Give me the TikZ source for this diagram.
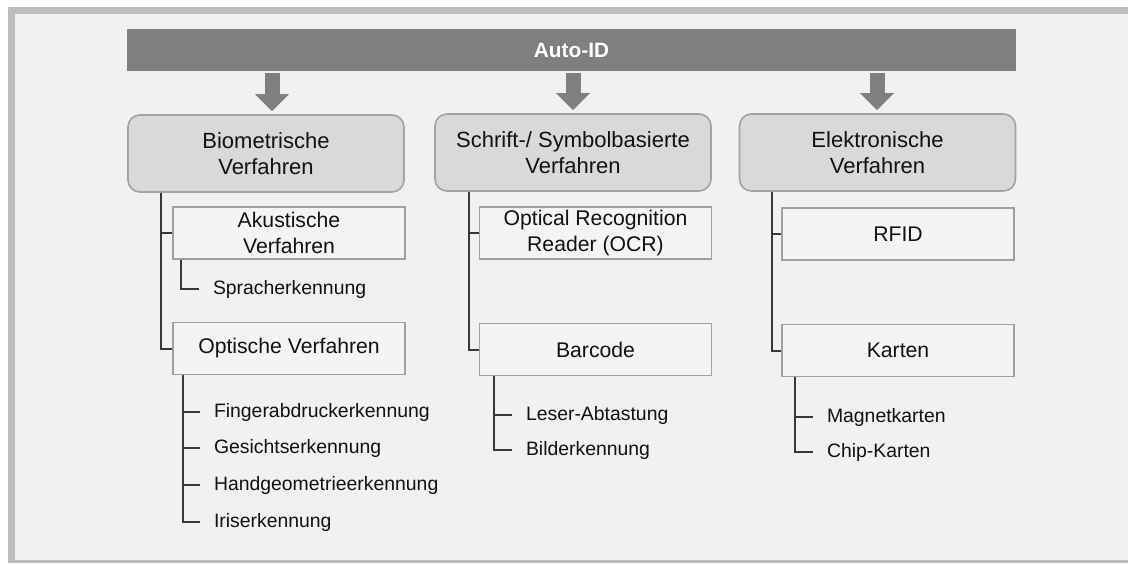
\documentclass[tikz,border=0pt]{standalone}
\usepackage{fontspec}
\setmainfont{Liberation Sans}
\usetikzlibrary{arrows.meta,calc}
\definecolor{framegrey}{HTML}{BDBDBD}
\definecolor{paper}{HTML}{F1F1F1}
\definecolor{bargrey}{HTML}{7F7F7F}
\definecolor{headfill}{HTML}{D9D9D9}
\definecolor{headline}{HTML}{A3A3A3}
\definecolor{subfill}{HTML}{F4F4F4}
\definecolor{subline}{HTML}{A0A0A0}
\definecolor{ink}{HTML}{111111}
\definecolor{treeline}{HTML}{383838}
\tikzset{
  topbar/.style={fill=bargrey, draw=none, minimum width=444.5pt, minimum height=21pt,
    text=white, font=\bfseries\fontsize{10.4}{12}\selectfont, inner sep=0pt},
  headbox/.style={rectangle, rounded corners=6pt, fill=headfill, draw=headline, line width=0.8pt,
    minimum width=138pt, minimum height=38.5pt, align=center, text=ink,
    font=\fontsize{11}{13}\selectfont, inner sep=0pt},
  subbox/.style={rectangle, fill=subfill, draw=subline, line width=0.9pt,
    minimum width=116pt, minimum height=26pt, align=center, text=ink,
    font=\fontsize{10.6}{13}\selectfont, inner sep=0pt},
  leaf/.style={anchor=west, inner xsep=6.8pt, inner ysep=0pt, text=ink,
    text height=0.72em, text depth=0.2em, font=\fontsize{9.7}{11}\selectfont},
  conn/.style={draw=treeline, line width=1pt},
  blockarrow/.style={draw=bargrey, line width=7.5pt,
    -{Triangle[width=16.5pt, length=8.5pt]}, shorten <=1pt, shorten >=1.5pt},
}
\begin{document}
\begin{tikzpicture}[x=0.5pt, y=-0.5pt]
  % page, frame and paper
  \useasboundingbox (0,0) rectangle (1128,563);
  \fill[white] (0,0) rectangle (1128,563);
  \fill[framegrey] (8,7) rectangle (1128,563);
  \fill[paper] (15,14) rectangle (1128,560);

  % title bar
  \node[topbar] (bar) at (571.5,50) {Auto-ID};

  % main categories
  \node[headbox] (b1) at (266,153.5) {Biometrische\\Verfahren};
  \node[headbox] (b2) at (573,152.5) {Schrift-/ Symbolbasierte\\Verfahren};
  \node[headbox] (b3) at (877.5,152.5) {Elektronische\\Verfahren};

  % arrows from the bar
  \coordinate (a1) at (272,0);
  \coordinate (a2) at (573,0);
  \coordinate (a3) at (877,0);
  \draw[blockarrow] (a1 |- bar.south) -- (a1 |- b1.north);
  \draw[blockarrow] (a2 |- bar.south) -- (a2 |- b2.north);
  \draw[blockarrow] (a3 |- bar.south) -- (a3 |- b3.north);

  % sub-categories
  \node[subbox] (ak)  at (289,233)     {Akustische\\Verfahren};
  \node[subbox] (op)  at (289,348.5)   {Optische Verfahren};
  \node[subbox] (ocr) at (595.5,233)   {Optical Recognition\\Reader (OCR)};
  \node[subbox] (bc)  at (595.5,349.5) {Barcode};
  \node[subbox] (rf)  at (898,234)     {RFID};
  \node[subbox] (ka)  at (898,350.5)   {Karten};

  % trunks from main categories
  \draw[conn] ([xshift=17pt]b1.south west) |- (ak.west);
  \draw[conn] ([xshift=17pt]b1.south west) |- (op.west);
  \draw[conn] ([xshift=17.5pt]b2.south west) |- (ocr.west);
  \draw[conn] ([xshift=17.5pt]b2.south west) |- (bc.west);
  \draw[conn] ([xshift=16.5pt]b3.south west) |- (rf.west);
  \draw[conn] ([xshift=16.5pt]b3.south west) |- (ka.west);

  % leaves
  \node[leaf] (sp) at (199,289) {Spracherkennung};
  \node[leaf] (fi) at (200,412) {Fingerabdruckerkennung};
  \node[leaf] (ge) at (200,448) {Gesichtserkennung};
  \node[leaf] (ha) at (200,485) {Handgeometrieerkennung};
  \node[leaf] (ir) at (200,522) {Iriserkennung};
  \node[leaf] (le) at (512,415) {Leser-Abtastung};
  \node[leaf] (bi) at (512,450) {Bilderkennung};
  \node[leaf] (ma) at (813,417) {Magnetkarten};
  \node[leaf] (ch) at (813,452) {Chip-Karten};

  \draw[conn] ([xshift=4.5pt]ak.south west) |- (sp.west);
  \draw[conn] ([xshift=5.5pt]op.south west) |- (fi.west);
  \draw[conn] ([xshift=5.5pt]op.south west) |- (ge.west);
  \draw[conn] ([xshift=5.5pt]op.south west) |- (ha.west);
  \draw[conn] ([xshift=5.5pt]op.south west) |- (ir.west);
  \draw[conn] ([xshift=7.5pt]bc.south west) |- (le.west);
  \draw[conn] ([xshift=7.5pt]bc.south west) |- (bi.west);
  \draw[conn] ([xshift=7pt]ka.south west) |- (ma.west);
  \draw[conn] ([xshift=7pt]ka.south west) |- (ch.west);
\end{tikzpicture}
\end{document}
